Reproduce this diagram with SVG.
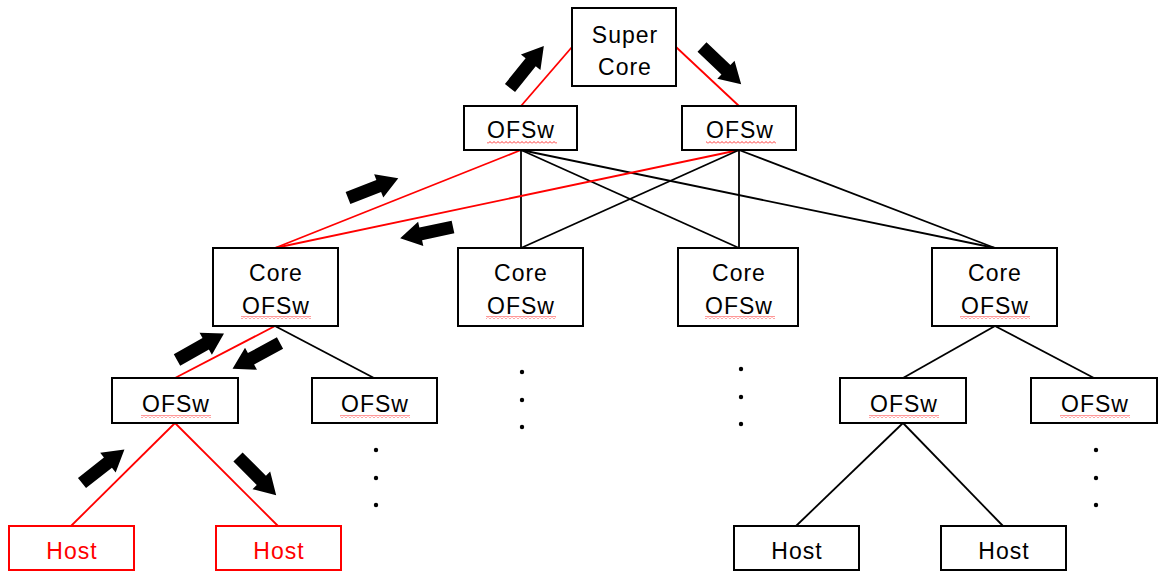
<svg xmlns="http://www.w3.org/2000/svg" xmlns:xlink="http://www.w3.org/1999/xlink" width="1166" height="577" viewBox="0 0 1166 577">
<style>
.box{fill:#fff;stroke:#000;stroke-width:2}
.rbox{fill:#fff;stroke:#f00;stroke-width:2}
.t{font-family:"Liberation Sans",Arial,sans-serif;font-size:23px;fill:#000;text-anchor:middle;letter-spacing:1px}
.rt{fill:#f00}
.ln{stroke:#000;stroke-width:1.8;fill:none}
.rl{stroke:#f00;stroke-width:1.8;fill:none}
.dot{fill:#000}
.sq{fill:url(#wave)}
</style>
<defs>
<pattern id="wave" patternUnits="userSpaceOnUse" width="4" height="3">
<path d="M0,2.5 L2,0.5 L4,2.5" stroke="#f00" stroke-width="0.8" fill="none"/>
</pattern>
<path id="arr" d="M0,-6.5 L33,-6.5 L33,-12.5 L54,0 L33,12.5 L33,6.5 L0,6.5 Z" fill="#000"/>
</defs>
<g id="connectors">
<line class="rl" x1="572" y1="47" x2="521" y2="106"/>
<line class="rl" x1="676" y1="47" x2="739" y2="106"/>
<line class="rl" x1="521" y1="150" x2="275" y2="248"/>
<line class="ln" x1="521" y1="150" x2="521" y2="248"/>
<line class="ln" x1="521" y1="150" x2="739" y2="248"/>
<line class="ln" x1="521" y1="150" x2="995" y2="248"/>
<line class="rl" x1="739" y1="150" x2="275" y2="248"/>
<line class="ln" x1="739" y1="150" x2="521" y2="248"/>
<line class="ln" x1="739" y1="150" x2="739" y2="248"/>
<line class="ln" x1="739" y1="150" x2="995" y2="248"/>
<line class="rl" x1="275" y1="326" x2="175" y2="378"/>
<line class="ln" x1="275" y1="326" x2="374" y2="378"/>
<line class="ln" x1="995" y1="326" x2="903" y2="378"/>
<line class="ln" x1="995" y1="326" x2="1094" y2="378"/>
<line class="rl" x1="175" y1="423" x2="71" y2="526"/>
<line class="rl" x1="175" y1="423" x2="278" y2="526"/>
<line class="ln" x1="903" y1="423" x2="796" y2="526"/>
<line class="ln" x1="903" y1="423" x2="1003" y2="526"/>
</g>
<g id="arrows">
<use xlink:href="#arr" href="#arr" transform="translate(510,88) rotate(-51.2)"/>
<use xlink:href="#arr" href="#arr" transform="translate(702,47) rotate(43.5)"/>
<use xlink:href="#arr" href="#arr" transform="translate(348,198) rotate(-21.4)"/>
<use xlink:href="#arr" href="#arr" transform="translate(453,227) rotate(168)"/>
<use xlink:href="#arr" href="#arr" transform="translate(177,360) rotate(-29.5)"/>
<use xlink:href="#arr" href="#arr" transform="translate(280,343) rotate(151.5)"/>
<use xlink:href="#arr" href="#arr" transform="translate(82,483) rotate(-38.2)"/>
<use xlink:href="#arr" href="#arr" transform="translate(238,457) rotate(45)"/>
</g>
<g id="supercore">
<rect class="box" x="572" y="8" width="104" height="78"/>
<text class="t" x="625" y="43">Super</text>
<text class="t" x="625" y="75">Core</text>
</g>
<g id="ofsw-top-left">
<rect class="box" x="464" y="106" width="113" height="44"/>
<text class="t" x="521" y="138">OFSw</text>
<rect class="sq" x="487" y="141" width="70" height="3"/>
</g>
<g id="ofsw-top-right">
<rect class="box" x="682" y="106" width="114" height="44"/>
<text class="t" x="740" y="138">OFSw</text>
<rect class="sq" x="706" y="141" width="70" height="3"/>
</g>
<g id="core1">
<rect class="box" x="213" y="248" width="125" height="78"/>
<text class="t" x="276" y="281">Core</text>
<text class="t" x="276" y="314">OFSw</text>
<rect class="sq" x="241" y="316" width="70" height="3"/>
</g>
<g id="core2">
<rect class="box" x="458" y="248" width="125" height="78"/>
<text class="t" x="521" y="281">Core</text>
<text class="t" x="521" y="314">OFSw</text>
<rect class="sq" x="486" y="316" width="70" height="3"/>
</g>
<g id="core3">
<rect class="box" x="678" y="248" width="120" height="78"/>
<text class="t" x="739" y="281">Core</text>
<text class="t" x="739" y="314">OFSw</text>
<rect class="sq" x="705" y="316" width="70" height="3"/>
</g>
<g id="core4">
<rect class="box" x="932" y="248" width="125" height="78"/>
<text class="t" x="995" y="281">Core</text>
<text class="t" x="995" y="314">OFSw</text>
<rect class="sq" x="960" y="316" width="70" height="3"/>
</g>
<g id="ofsw-l1">
<rect class="box" x="112" y="378" width="126" height="45"/>
<text class="t" x="176" y="412">OFSw</text>
<rect class="sq" x="141" y="415" width="70" height="3"/>
</g>
<g id="ofsw-l2">
<rect class="box" x="312" y="378" width="125" height="45"/>
<text class="t" x="375" y="412">OFSw</text>
<rect class="sq" x="340" y="415" width="70" height="3"/>
</g>
<g id="ofsw-r1">
<rect class="box" x="840" y="378" width="126" height="45"/>
<text class="t" x="904" y="412">OFSw</text>
<rect class="sq" x="869" y="415" width="70" height="3"/>
</g>
<g id="ofsw-r2">
<rect class="box" x="1031" y="378" width="126" height="45"/>
<text class="t" x="1095" y="412">OFSw</text>
<rect class="sq" x="1060" y="415" width="70" height="3"/>
</g>
<g id="host1">
<rect class="rbox" x="9" y="526" width="125" height="44"/>
<text class="t rt" x="72" y="559">Host</text>
</g>
<g id="host2">
<rect class="rbox" x="216" y="526" width="125" height="44"/>
<text class="t rt" x="279" y="559">Host</text>
</g>
<g id="host3">
<rect class="box" x="734" y="526" width="125" height="44"/>
<text class="t" x="797" y="559">Host</text>
</g>
<g id="host4">
<rect class="box" x="941" y="526" width="125" height="44"/>
<text class="t" x="1004" y="559">Host</text>
</g>
<g id="dots">
<circle class="dot" cx="522" cy="372" r="2.2"/>
<circle class="dot" cx="522" cy="400" r="2.2"/>
<circle class="dot" cx="522" cy="427" r="2.2"/>
<circle class="dot" cx="741" cy="369" r="2.2"/>
<circle class="dot" cx="741" cy="397" r="2.2"/>
<circle class="dot" cx="741" cy="424" r="2.2"/>
<circle class="dot" cx="376" cy="450" r="2.2"/>
<circle class="dot" cx="376" cy="478" r="2.2"/>
<circle class="dot" cx="376" cy="505" r="2.2"/>
<circle class="dot" cx="1096" cy="450" r="2.2"/>
<circle class="dot" cx="1096" cy="478" r="2.2"/>
<circle class="dot" cx="1096" cy="505" r="2.2"/>
</g>
</svg>
